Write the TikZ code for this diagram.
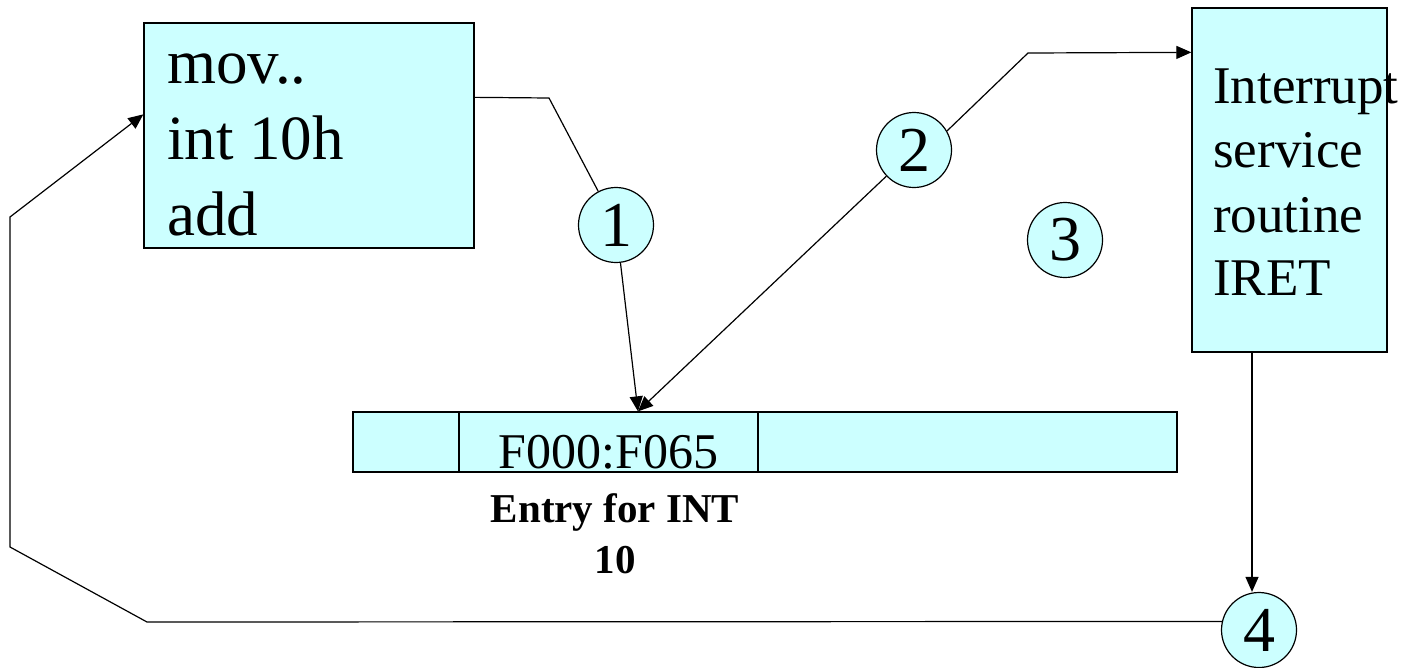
\documentclass[tikz,border=0pt]{standalone}
\usepackage{fontspec}
\setmainfont{Liberation Serif}
\usetikzlibrary{arrows.meta,calc}
\definecolor{boxcyan}{HTML}{CCFFFF}
\tikzset{
  blk/.style={draw=black, fill=boxcyan, line width=1.3pt, inner sep=0pt, rectangle},
  num/.style={draw=black, fill=boxcyan, line width=1.2pt, circle, inner sep=0pt, minimum size=75pt, font=\fontsize{64}{64}\selectfont},
  conn/.style={line width=1.2pt, line join=miter},
  arr/.style={conn, -{Triangle[length=15pt,width=13pt]}},
  txt/.style={inner sep=0pt, anchor=base west},
  bigtxt/.style={txt, font=\fontsize{63}{76}\selectfont},
  isrtxt/.style={txt, font=\fontsize{53}{64}\selectfont},
  lbl/.style={inner sep=0pt, anchor=base, font=\fontsize{41}{51}\selectfont\bfseries},
}
\begin{document}
\begin{tikzpicture}[x=1pt,y=-1pt]
\useasboundingbox (0,0) rectangle (1404,667);

% program box
\node[blk, minimum width=330pt, minimum height=225pt] (prog) at (309,135.5) {};
\node[bigtxt] (progA) at (167,83) {mov..};
\node[bigtxt] (progB) at (167,159) {int 10h};
\node[bigtxt] (progC) at (167,235) {add};

% ISR box
\node[blk, minimum width=195pt, minimum height=344pt] (isr) at (1289.5,180) {};
\node[isrtxt] (isrA) at (1213,103) {Interrupt};
\node[isrtxt] (isrB) at (1213,167) {service};
\node[isrtxt] (isrC) at (1213,232) {routine};
\node[isrtxt] (isrD) at (1213,295) {IRET};

% vector table
\node[blk, minimum width=106pt, minimum height=60pt] (cell1) at (406,442) {};
\node[blk, minimum width=299pt, minimum height=60pt] (cell2) at (608.5,442) {};
\node[blk, minimum width=419pt, minimum height=60pt] (cell3) at (967.5,442) {};
\node[inner sep=0pt, anchor=base, font=\fontsize{50}{50}\selectfont] (addr) at (608.5,468) {F000:F065};
\node[lbl] (lblA) at (615,522) {Entry for INT};
\node[lbl] (lblB) at (615,573) {10};

% numbered circles
\node[num] (c1) at (616,225) {1};
\node[num] (c2) at (914,150) {2};
\node[num] (c3) at (1065,240) {3};
\node[num] (c4) at (1259,630) {4};

% connectors
\coordinate (b1) at (549,98);
\coordinate (tip) at ($(cell2.north)+(29.5,0)$);
\coordinate (b2) at (1028,53);
\coordinate (d4) at (1252,0);
\coordinate (b3) at (147,622);
\coordinate (b4) at (10,547);
\coordinate (b5) at (10,217);

\draw[conn] ($(prog.north east)+(0,75)$) -- (b1) -- (c1);
\draw[arr] (c1) -- (tip);
\draw[arr] (c2) -- (tip);
\draw[arr] (c2.30) -- (b2) -- ($(isr.north west)+(0,45)$);
\draw[arr] (isr.south -| d4) -- (c4.north -| d4);
\draw[arr] (c4.167) -- (b3) -- (b4) -- (b5) -- ($(prog.north west)+(0,92)$);
\end{tikzpicture}
\end{document}
